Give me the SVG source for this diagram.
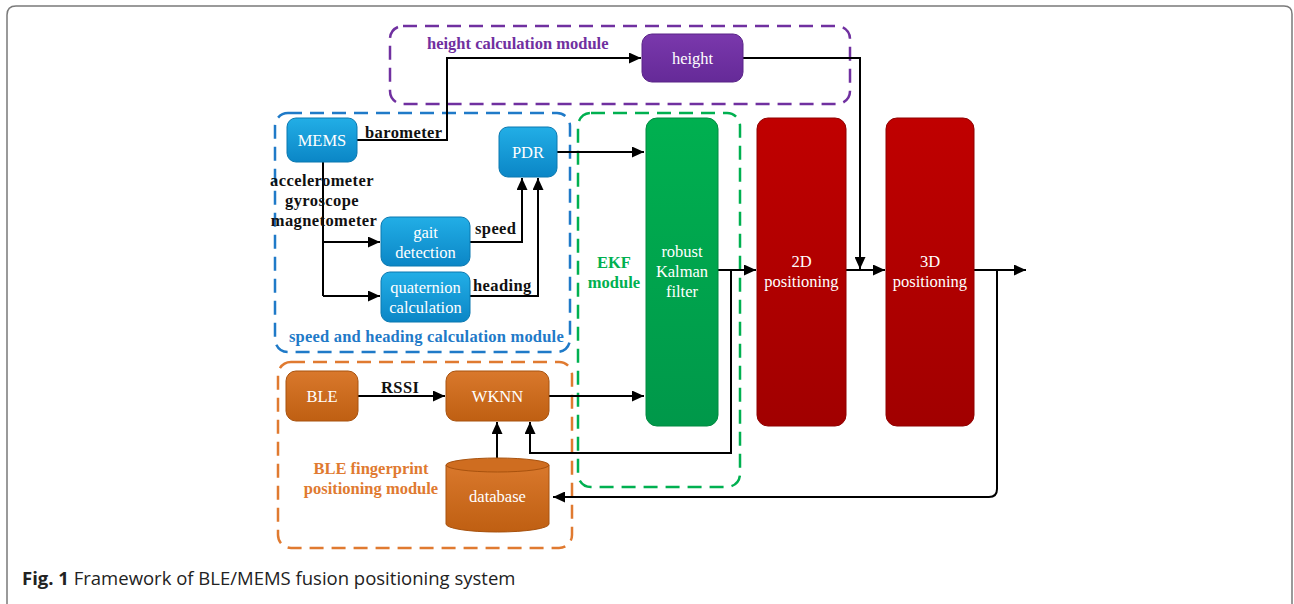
<svg xmlns="http://www.w3.org/2000/svg" width="1294" height="604" viewBox="0 0 1294 604">
  <style>
    .frame { fill: #ffffff; stroke: #7a7a7a; stroke-width: 1.5; }
    .grp { fill: none; stroke-width: 2.5; stroke-dasharray: 14 8; }
    .node text { font-family: "Liberation Serif", "DejaVu Serif", serif; font-size: 16.5px; fill: #ffffff; text-anchor: middle; }
    .lbl { font-family: "Liberation Serif", "DejaVu Serif", serif; font-size: 16.5px; font-weight: bold; fill: #111111; letter-spacing: 0.4px; }
    .mlbl { font-family: "Liberation Serif", "DejaVu Serif", serif; font-size: 16.5px; font-weight: bold; }
    .wire { fill: none; stroke: #000000; stroke-width: 2; }
    .arr { marker-end: url(#head); }
    .cap { font-family: "Open Sans", "Liberation Sans", sans-serif; font-size: 18.5px; fill: #222222; }
  </style>
  <defs>
    <marker id="head" viewBox="0 0 10 10" refX="10" refY="5" markerWidth="12" markerHeight="11" markerUnits="userSpaceOnUse" orient="auto" preserveAspectRatio="none">
      <path d="M0,0 L10,5 L0,10 z" fill="#000000"/>
    </marker>
    <linearGradient id="gBlue" x1="0" y1="0" x2="0" y2="1">
      <stop offset="0" stop-color="#22aee6"/>
      <stop offset="1" stop-color="#0b86c6"/>
    </linearGradient>
    <linearGradient id="gOrange" x1="0" y1="0" x2="0" y2="1">
      <stop offset="0" stop-color="#d9782c"/>
      <stop offset="1" stop-color="#bf5f12"/>
    </linearGradient>
    <linearGradient id="gPurple" x1="0" y1="0" x2="0" y2="1">
      <stop offset="0" stop-color="#7a38ac"/>
      <stop offset="1" stop-color="#652a98"/>
    </linearGradient>
    <linearGradient id="gGreen" x1="0" y1="0" x2="0" y2="1">
      <stop offset="0" stop-color="#00b050"/>
      <stop offset="1" stop-color="#00984a"/>
    </linearGradient>
    <linearGradient id="gRed" x1="0" y1="0" x2="0" y2="1">
      <stop offset="0" stop-color="#c00000"/>
      <stop offset="1" stop-color="#a10000"/>
    </linearGradient>
  </defs>

  <!-- figure frame -->
  <path class="frame" d="M7,604 L7,15 Q7,6 16,6 L1284,6 Q1292,6 1292,14 L1292,604"/>

  <!-- module outlines -->
  <g id="modules">
    <rect class="grp" x="390" y="26" width="460" height="78" rx="13" stroke="#7030a0"/>
    <rect class="grp" x="275" y="113" width="295" height="239" rx="13" stroke="#1f7ac8"/>
    <rect class="grp" x="578" y="113" width="162" height="374" rx="13" stroke="#00b050"/>
    <rect class="grp" x="278" y="362" width="294" height="186" rx="13" stroke="#e07a30"/>
    <text class="mlbl" x="427" y="49" fill="#7030a0">height calculation module</text>
    <text class="mlbl" x="289" y="342" fill="#1f7ac8" letter-spacing="0.2">speed and heading calculation module</text>
    <text class="mlbl" x="614" y="268" fill="#00b050" text-anchor="middle">EKF</text>
    <text class="mlbl" x="614" y="288" fill="#00b050" text-anchor="middle">module</text>
    <text class="mlbl" x="371" y="474" fill="#e07a30" text-anchor="middle">BLE fingerprint</text>
    <text class="mlbl" x="371" y="494" fill="#e07a30" text-anchor="middle">positioning module</text>
  </g>

  <!-- connectors -->
  <g id="connectors">
    <path class="wire arr" d="M357,140 L447,140 L447,58 L641,58"/>
    <path class="wire arr" d="M743,58 L860,58 L860,269"/>
    <path class="wire arr" d="M557,152 L644,152"/>
    <path class="wire" d="M323,162 L323,296"/>
    <path class="wire arr" d="M323,242 L380,242"/>
    <path class="wire arr" d="M323,296 L380,296"/>
    <path class="wire arr" d="M470,242 L522,242 L522,178"/>
    <path class="wire arr" d="M470,296 L538,296 L538,178"/>
    <path class="wire arr" d="M718,270 L756,270"/>
    <path class="wire arr" d="M846,270 L885,270"/>
    <path class="wire arr" d="M974,270 L1026,270"/>
    <path class="wire arr" d="M731,270 L731,453 L530,453 L530,422"/>
    <path class="wire arr" d="M997,270 L997,489 Q997,497 989,497 L553,497"/>
    <path class="wire arr" d="M358,396 L445,396"/>
    <path class="wire arr" d="M549,396 L644,396"/>
    <path class="wire arr" d="M497,458 L497,422"/>
    <text class="lbl" x="365" y="138">barometer</text>
    <text class="lbl" x="322" y="186" text-anchor="middle">accelerometer</text>
    <text class="lbl" x="322" y="206" text-anchor="middle">gyroscope</text>
    <text class="lbl" x="324" y="226" text-anchor="middle">magnetometer</text>
    <text class="lbl" x="475" y="234">speed</text>
    <text class="lbl" x="473" y="291">heading</text>
    <text class="lbl" x="381" y="393">RSSI</text>
  </g>

  <!-- nodes -->
  <g id="height" class="node">
    <rect x="642" y="34" width="101" height="48" rx="10" fill="url(#gPurple)" stroke="#5a2488" stroke-width="1"/>
    <text x="692.5" y="64">height</text>
  </g>
  <g id="mems" class="node">
    <rect x="287" y="118" width="70" height="44" rx="9" fill="url(#gBlue)" stroke="#0a78b0" stroke-width="1"/>
    <text x="322" y="146">MEMS</text>
  </g>
  <g id="pdr" class="node">
    <rect x="499" y="127" width="58" height="50" rx="9" fill="url(#gBlue)" stroke="#0a78b0" stroke-width="1"/>
    <text x="528" y="158">PDR</text>
  </g>
  <g id="gait" class="node">
    <rect x="381" y="217" width="89" height="49" rx="9" fill="url(#gBlue)" stroke="#0a78b0" stroke-width="1"/>
    <text x="425.5" y="238">gait</text>
    <text x="425.5" y="258">detection</text>
  </g>
  <g id="quaternion" class="node">
    <rect x="381" y="272" width="89" height="50" rx="9" fill="url(#gBlue)" stroke="#0a78b0" stroke-width="1"/>
    <text x="425.5" y="293">quaternion</text>
    <text x="425.5" y="313">calculation</text>
  </g>
  <g id="kalman" class="node">
    <rect x="646" y="118" width="72" height="308" rx="11" fill="url(#gGreen)" stroke="#008a40" stroke-width="1"/>
    <text x="682" y="257">robust</text>
    <text x="682" y="277">Kalman</text>
    <text x="682" y="297">filter</text>
  </g>
  <g id="pos2d" class="node">
    <rect x="757" y="118" width="89" height="308" rx="11" fill="url(#gRed)" stroke="#900000" stroke-width="1"/>
    <text x="801.5" y="267">2D</text>
    <text x="801.5" y="287">positioning</text>
  </g>
  <g id="pos3d" class="node">
    <rect x="886" y="118" width="88" height="308" rx="11" fill="url(#gRed)" stroke="#900000" stroke-width="1"/>
    <text x="930" y="267">3D</text>
    <text x="930" y="287">positioning</text>
  </g>
  <g id="ble" class="node">
    <rect x="286" y="371" width="72" height="50" rx="10" fill="url(#gOrange)" stroke="#a8520e" stroke-width="1"/>
    <text x="322" y="402">BLE</text>
  </g>
  <g id="wknn" class="node">
    <rect x="446" y="371" width="103" height="50" rx="10" fill="url(#gOrange)" stroke="#a8520e" stroke-width="1"/>
    <text x="497.5" y="402">WKNN</text>
  </g>
  <g id="database" class="node">
    <path d="M446,465 L446,524 A51.5,8 0 0 0 549,524 L549,465" fill="url(#gOrange)" stroke="#a8520e" stroke-width="1"/>
    <ellipse cx="497.5" cy="465" rx="51.5" ry="7" fill="#cf6d20" stroke="#a8520e" stroke-width="1"/>
    <text x="497.5" y="502">database</text>
  </g>

  <!-- caption -->
  <text class="cap" x="22" y="585"><tspan font-weight="bold">Fig. 1</tspan> Framework of BLE/MEMS fusion positioning system</text>
</svg>
